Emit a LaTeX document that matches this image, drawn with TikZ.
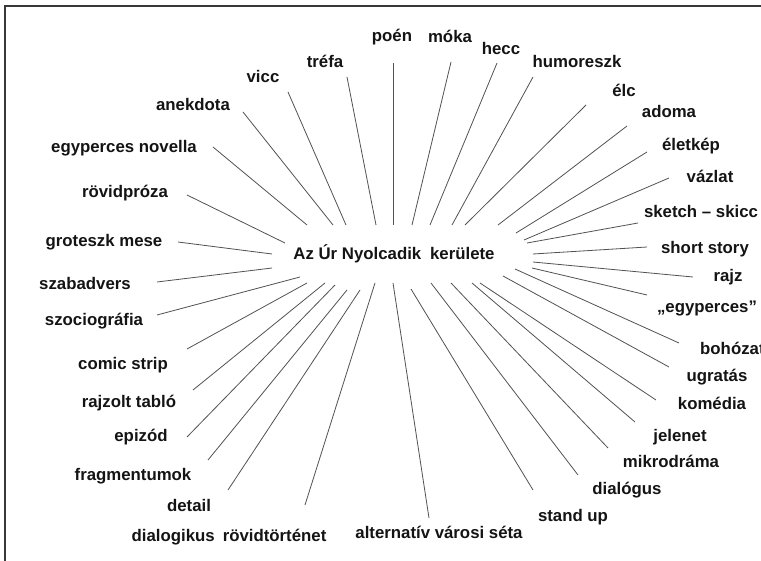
\documentclass[tikz,border=0pt]{standalone}
\usepackage{fontspec}
\setmainfont{Liberation Sans}
\begin{document}
\begin{tikzpicture}[x=1pt,y=-1pt,
  lbl/.style={inner sep=0pt,text height=12.5pt,text depth=3.5pt,text=black!92,
    font=\fontsize{16.8}{20}\selectfont\bfseries},
  ray/.style={draw=black!68,line width=0.8pt},
  frame/.style={draw=black!78,line width=1.4pt}]
\useasboundingbox (0,0) rectangle (761,561);
\fill[white] (0,0) rectangle (761,561);
\draw[frame] (5,6) rectangle (790,590);
\node[lbl] (c) at (394,255) {Az Úr Nyolcadik\hspace{0.25em} kerülete};
\foreach \n/\lx/\ly/\ox/\oy/\ix/\iy/\t in {
 1/325/63/347/77/376/225/{tréfa},
 2/263/78/288/92/346/225/{vicc},
 3/193/106/243/112/333/225/{anekdota},
 4/124/148/213/147/307/225/{egyperces novella},
 5/125/193/187/195/285/243/{rövidpróza},
 6/104/242/178/242/272/254/{groteszk mese},
 7/85/285/157/282/272/268/{szabadvers},
 8/94/321/157/315/300/277/{szociográfia},
 9/123/365/187/349/307/283/{comic strip},
 10/129/403/193/390/325/283/{rajzolt tabló},
 11/141/437/187/437/335/285/{epizód},
 12/133/476/208/460/347/290/{fragmentumok},
 13/189/507/228/490/360/290/{detail},
 14/229/537/305/505/375/283/{dialogikus\hspace{0.2em} rövidtörténet},
 15/439/534/429/518/393/283/{alternatív városi séta},
 16/573/517/533/490/411/289/{stand up},
 17/627/490/578/475/431/283/{dialógus},
 18/671/463/608/448/451/283/{mikrodráma},
 19/680/437/635/422/472/283/{jelenet},
 20/712/405/656/400/480/283/{komédia},
 21/717/377/669/367/503/276/{ugratás},
 23/707/308/647/295/532/268/{„egyperces”},
 24/728/277/693/277/533/262/{rajz},
 25/705/249/647/247/533/254/{short story},
 26/701/213/638/223/527/243/{sketch – skicc},
 27/710/178/669/178/524/240/{vázlat},
 28/691/146/647/152/516/233/{életkép},
 29/669/113/627/126/498/225/{adoma},
 30/624/92/586/105/465/225/{élc},
 31/577/63/533/77/452/225/{humoreszk},
 32/501/50/497/63/430/225/{hecc},
 33/450/38/451/62/412/225/{móka},
 34/392/37/393/63/393/225/{poén}}{
  \node[lbl] (l\n) at (\lx,\ly) {\t};
  \coordinate (o\n) at (\ox,\oy);
  \coordinate (i\n) at (\ix,\iy);
  \draw[ray] (o\n) -- (i\n);
}
\node[lbl,anchor=west] (l22) at (700,350) {bohózat};
\coordinate (o22) at (679,343);
\coordinate (i22) at (515,269);
\draw[ray] (o22) -- (i22);
\end{tikzpicture}
\end{document}
